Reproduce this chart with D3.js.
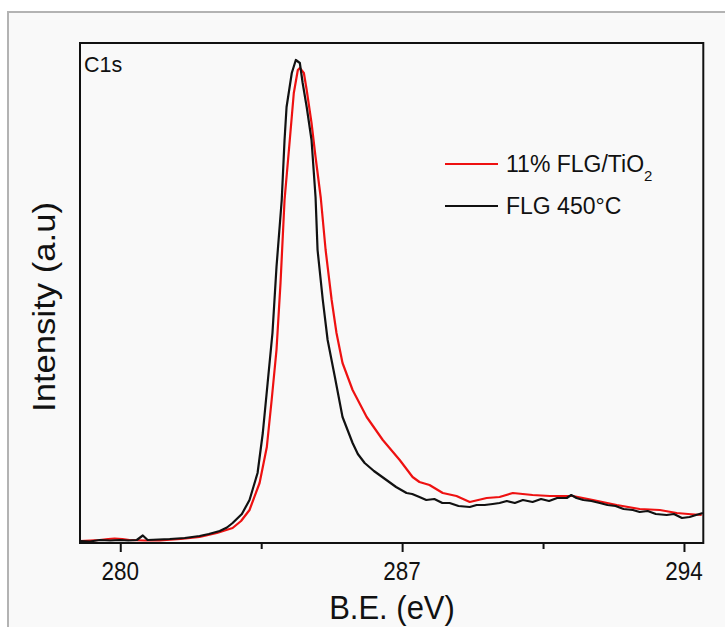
<!DOCTYPE html>
<html>
<head>
<meta charset="utf-8">
<script src="https://cdn.jsdelivr.net/npm/d3@7"></script>
<style>
  html, body { margin: 0; padding: 0; background: #ffffff; }
  svg { display: block; }
  text { font-family: "Liberation Sans", Arial, sans-serif; fill: #111; }
</style>
</head>
<body>
<svg id="chart" width="725" height="627"></svg>
<script>
// ---- data ----
const tickLabels = [280, 287, 294];
const minorTicks = [283.5, 290.5];
const seriesNames = ["11% FLG/TiO", "FLG 450°C"];

// FLG 450°C (black)
const blackE = [278.99, 279.25, 279.49, 279.75, 279.99, 280.2, 280.41, 280.56, 280.68, 280.95, 281.23, 281.6, 281.97, 282.2, 282.47, 282.65,
  282.79, 283.02, 283.21, 283.41, 283.54, 283.66, 283.78, 283.88, 284.01, 284.08, 284.13, 284.26, 284.36, 284.46, 284.53,
  284.63, 284.75, 284.85, 284.9, 285.03, 285.15, 285.33, 285.52, 285.77, 285.9, 286.07, 286.3, 286.61, 286.85, 287.11, 287.25, 287.43,
  287.6, 287.8, 288.0, 288.18, 288.4, 288.68, 288.85, 289.05, 289.25, 289.42, 289.6, 289.8, 290.0, 290.24, 290.45, 290.65, 290.85,
  291.09, 291.2, 291.33, 291.5, 291.7, 291.91, 292.1, 292.3, 292.5, 292.73, 292.9, 293.1, 293.3, 293.57, 293.75, 293.95, 294.14, 294.3, 294.47];
const blackI = [0.4, 0.3, 0.6, 0.5, 0.6, 0.5, 0.6, 1.5, 0.6, 0.7, 0.8, 1.0, 1.4, 1.8, 2.4, 3.1,
  4.0, 5.8, 8.6, 14.0, 22.0, 32.0, 42.0, 55.2, 68.6, 80.6, 87.2, 94.0, 96.6, 96.0, 92.0,
  87.2, 80.6, 69.2, 58.6, 48.6, 40.6, 33.2, 25.2, 20.0, 17.8, 16.0, 14.4, 12.6, 11.2, 10.0, 9.8, 9.2,
  8.6, 8.8, 8.0, 8.0, 7.4, 7.2, 7.6, 7.6, 7.8, 8.0, 8.4, 8.0, 8.6, 8.2, 8.8, 8.4, 9.0,
  9.0, 9.6, 9.0, 8.6, 8.4, 8.0, 7.6, 7.4, 6.8, 6.6, 6.2, 6.4, 5.8, 5.6, 5.8, 5.0, 5.2, 5.6, 6.0];

// 11% FLG/TiO2 (red)
const redE = [278.99, 279.25, 279.49, 279.7, 279.86, 280.05, 280.23, 280.6, 280.98, 281.5, 281.97, 282.4, 282.79, 283.0, 283.21, 283.46,
  283.64, 283.76, 283.88, 283.98, 284.08, 284.21, 284.31, 284.41, 284.46, 284.56, 284.63, 284.75, 284.85, 284.98,
  285.1, 285.25, 285.37, 285.52, 285.77, 286.12, 286.52, 286.94, 287.26, 287.43, 287.68, 288.01, 288.35, 288.68,
  289.1, 289.42, 289.75, 290.24, 290.67, 291.24, 291.74, 292.33, 292.9, 293.4, 293.82, 294.1, 294.44];
const redI = [0.4, 0.5, 0.6, 0.8, 0.9, 0.8, 0.6, 0.5, 0.5, 0.8, 1.2, 2.0, 3.0, 4.4, 6.6, 12.0,
  19.2, 28.6, 38.6, 52.0, 68.6, 80.6, 90.0, 94.6, 95.0, 94.0, 90.6, 84.0, 77.2, 69.0,
  58.6, 48.6, 42.0, 36.0, 30.6, 25.2, 20.6, 16.6, 13.2, 12.2, 11.6, 10.0, 9.4, 8.2,
  9.0, 9.2, 10.0, 9.6, 9.4, 9.4, 8.6, 7.6, 6.8, 6.6, 6.0, 5.8, 5.6];

// ---- layout ----
const svg = d3.select("#chart");
const plot = { left: 80, top: 43, right: 703.3, bottom: 543 };

// outer panel border
svg.append("rect")
  .attr("x", 8).attr("y", 12).attr("width", 760).attr("height", 660)
  .attr("fill", "#f9f9f9").attr("stroke", "#b3b3b3").attr("stroke-width", 2);

const x = d3.scaleLinear().domain([279, 294.48]).range([plot.left, plot.right]);
const y = d3.scaleLinear().domain([0, 100]).range([plot.bottom, plot.top]);

const line = d3.line().x(d => x(d[0])).y(d => y(d[1]));

svg.append("clipPath").attr("id", "clip")
  .append("rect").attr("x", plot.left).attr("y", plot.top)
  .attr("width", plot.right - plot.left).attr("height", plot.bottom - plot.top);

const gLines = svg.append("g").attr("clip-path", "url(#clip)");
gLines.append("path")
  .datum(redE.map((e, i) => [e, redI[i]]))
  .attr("fill", "none").attr("stroke", "#ee1111").attr("stroke-width", 2.2)
  .attr("stroke-linejoin", "round").attr("d", line);
gLines.append("path")
  .datum(blackE.map((e, i) => [e, blackI[i]]))
  .attr("fill", "none").attr("stroke", "#111").attr("stroke-width", 2.2)
  .attr("stroke-linejoin", "round").attr("d", line);

// frame
svg.append("rect")
  .attr("x", plot.left).attr("y", plot.top)
  .attr("width", plot.right - plot.left).attr("height", plot.bottom - plot.top)
  .attr("fill", "none").attr("stroke", "#111").attr("stroke-width", 2);

// x axis major ticks
const axis = svg.append("g").attr("transform", `translate(0,${plot.bottom + 1})`)
  .call(d3.axisBottom(x).tickValues(tickLabels).tickSize(8).tickPadding(0).tickFormat(d3.format("d")));
axis.select(".domain").remove();
axis.selectAll(".tick line").attr("stroke", "#111").attr("stroke-width", 2);
axis.selectAll(".tick text").remove();
// minor ticks
const minorAxis = svg.append("g").attr("transform", `translate(0,${plot.bottom + 1})`)
  .call(d3.axisBottom(x).tickValues(minorTicks).tickSize(5).tickFormat(""));
minorAxis.select(".domain").remove();
minorAxis.selectAll(".tick line").attr("stroke", "#111").attr("stroke-width", 2);

// tick labels
svg.append("g").selectAll("text").data(tickLabels).join("text")
  .attr("transform", d => `translate(${x(d)},580) scale(1,1.15)`)
  .attr("text-anchor", "middle").attr("font-size", 22.5)
  .text(d => d);

// axis titles
svg.append("text")
  .attr("transform", `translate(392,619) scale(1,1.1)`)
  .attr("text-anchor", "middle").attr("font-size", 31)
  .text("B.E. (eV)");
svg.append("text")
  .attr("transform", `translate(55,307) rotate(-90) scale(1.1,1)`)
  .attr("text-anchor", "middle").attr("font-size", 31.5)
  .text("Intensity (a.u)");

// panel label
svg.append("text").attr("transform", "translate(84,72) scale(1,1.05)").attr("font-size", 21.5).text("C1s");

// legend
const legend = svg.append("g");
const legendColors = ["#ee1111", "#111"];
const legendY = [164, 206];
legend.selectAll("line").data(seriesNames).join("line")
  .attr("x1", 445).attr("x2", 498)
  .attr("y1", (d, i) => legendY[i]).attr("y2", (d, i) => legendY[i])
  .attr("stroke", (d, i) => legendColors[i]).attr("stroke-width", 2);
const lt = legend.selectAll("text.lab").data(seriesNames).join("text")
  .attr("class", "lab")
  .attr("x", 506).attr("y", (d, i) => legendY[i] + 8)
  .attr("font-size", 23);
lt.append("tspan").text(d => d);
lt.filter((d, i) => i === 0).append("tspan")
  .attr("dy", 9).attr("font-size", 15).text("2");
</script>
</body>
</html>
